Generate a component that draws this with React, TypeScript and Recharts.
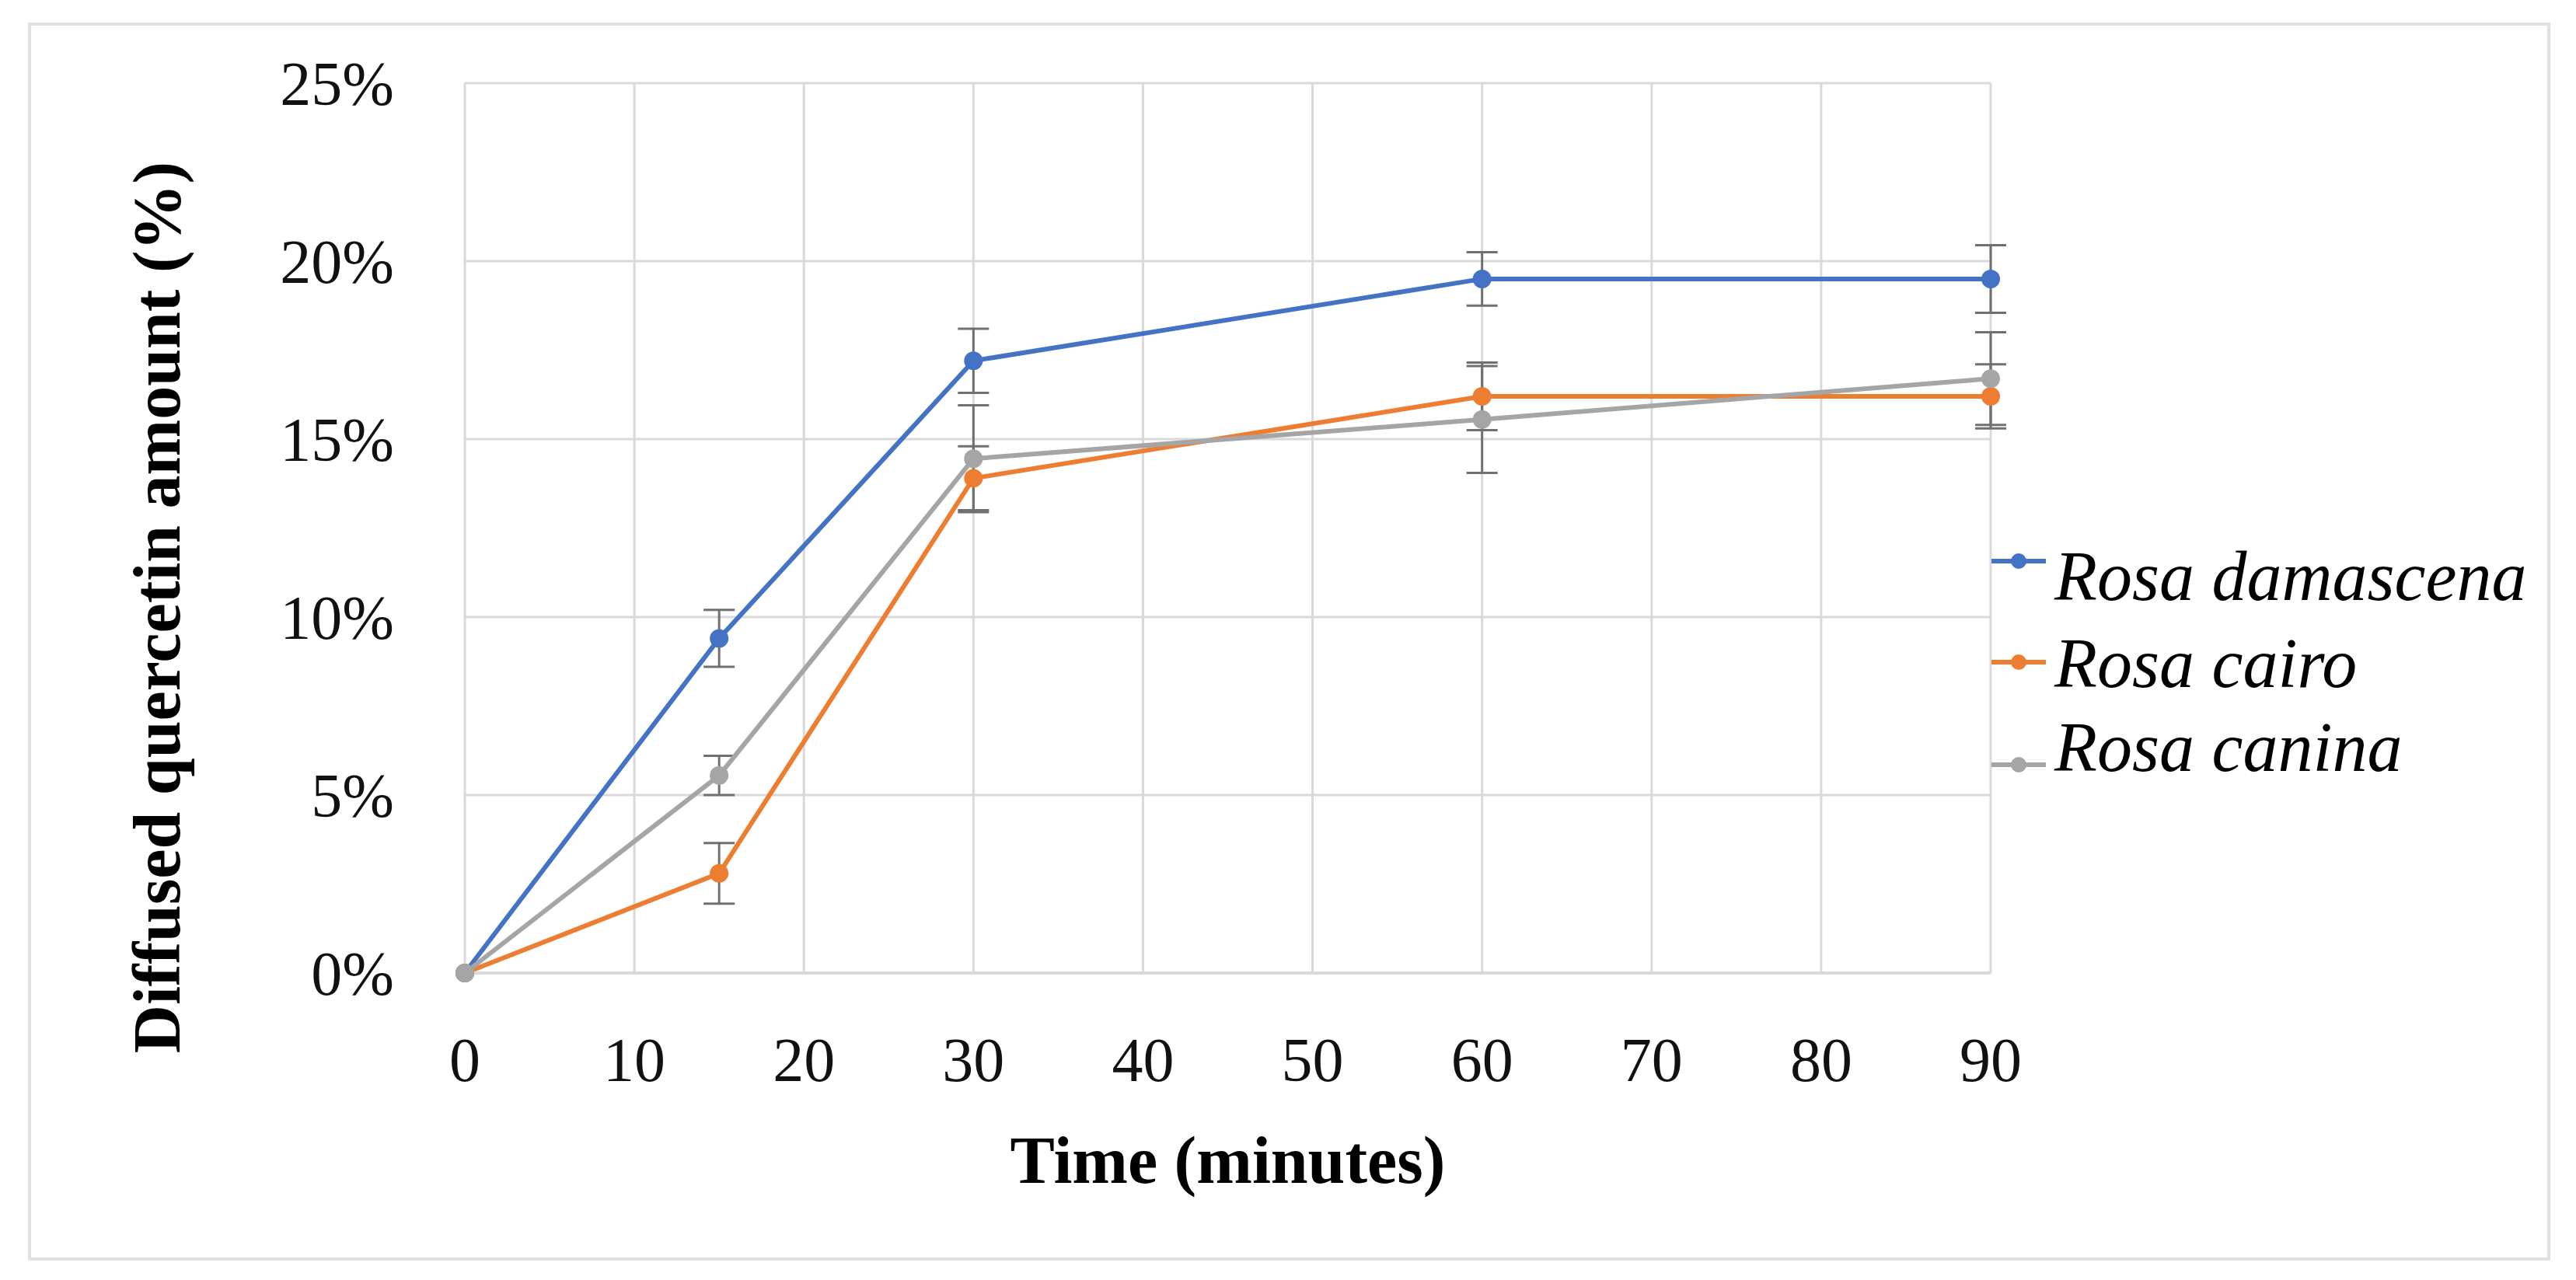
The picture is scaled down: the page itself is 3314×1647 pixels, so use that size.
import React from 'react';
import { LineChart, Line, XAxis, YAxis, CartesianGrid, ErrorBar, Label } from 'recharts';

const times = [0, 15, 30, 60, 90];
const damascena = [0, 9.4, 17.2, 19.5, 19.5];
const damascenaErr = [0, 0.8, 0.9, 0.75, 0.95];
const cairo = [0, 2.8, 13.9, 16.2, 16.2];
const cairoErr = [0, 0.85, 0.9, 0.95, 0.9];
const canina = [0, 5.55, 14.45, 15.55, 16.7];
const caninaErr = [0, 0.55, 1.5, 1.5, 1.3];

const xTicks = [0, 10, 20, 30, 40, 50, 60, 70, 80, 90];
const yTicks = [0, 5, 10, 15, 20, 25];

const seriesKeys = ['damascena', 'cairo', 'canina'];
const seriesNames = ['Rosa damascena', 'Rosa cairo', 'Rosa canina'];
const colors = ['#4472C4', '#ED7D31', '#A5A5A5'];

const xTitle = 'Time (minutes)';
const yTitle = 'Diffused quercetin amount (%)';

const data = times.map((t, i) => ({
  t,
  damascena: damascena[i],
  damascenaErr: damascenaErr[i],
  cairo: cairo[i],
  cairoErr: cairoErr[i],
  canina: canina[i],
  caninaErr: caninaErr[i],
}));

const FONT = '"Liberation Serif", "Times New Roman", serif';

const XTitle = (props: any) => {
  const vb = props.viewBox || {};
  return (
    <text
      x={vb.x + vb.width / 2}
      y={vb.y + 240}
      dy="0.35em"
      textAnchor="middle"
      fontFamily={FONT}
      fontWeight="bold"
      fontSize={86}
      fill="#000"
    >
      {xTitle}
    </text>
  );
};

const YTitle = (props: any) => {
  const vb = props.viewBox || {};
  const cx = vb.x + 201;
  const cy = vb.y + vb.height / 2 + 102;
  return (
    <text
      x={cx}
      y={cy}
      dy="0.35em"
      textAnchor="middle"
      transform={`rotate(-90 ${cx} ${cy})`}
      fontFamily={FONT}
      fontWeight="bold"
      fontSize={86}
      fill="#000"
    >
      {yTitle}
    </text>
  );
};

const markerOffsets = [-18, 0, 24];
const textCenters = [50, 162, 270];

const LegendBox = () => (
  <svg width={760} height={340} style={{ overflow: 'visible', display: 'block' }}>
    {seriesNames.map((name, i) => {
      const ty = textCenters[i];
      const my = ty + markerOffsets[i];
      return (
        <g key={name}>
          <line x1={12} x2={82} y1={my} y2={my} stroke={colors[i]} strokeWidth={6} />
          <circle cx={47} cy={my} r={10} fill={colors[i]} />
          <text
            x={93}
            y={ty}
            dy="0.35em"
            fontFamily={FONT}
            fontStyle="italic"
            fontSize={90}
            fill="#000"
          >
            {name}
          </text>
        </g>
      );
    })}
  </svg>
);

export default function App() {
  return (
    <div style={{ position: 'absolute', left: 0, top: 0, width: 3314, height: 1647, background: '#fff' }}>
      <div
        style={{
          position: 'absolute',
          left: 36,
          top: 29,
          width: 3237,
          height: 1585,
          border: '4px solid #e0e0e0',
        }}
      />
      <div style={{ position: 'absolute', left: 0, top: 0 }}>
        <LineChart
          width={3314}
          height={1647}
          data={data}
          margin={{ top: 107, right: 753, left: 0, bottom: 0 }}
        >
          <CartesianGrid stroke="#d9d9d9" strokeWidth={3} vertical={true} horizontal={true} />
          <XAxis
            dataKey="t"
            type="number"
            domain={[0, 90]}
            ticks={xTicks}
            height={395}
            tickSize={0}
            tickMargin={82}
            axisLine={{ stroke: '#d9d9d9', strokeWidth: 4 }}
            tickLine={false}
            tick={{ fontFamily: FONT, fontSize: 80, fill: '#111' }}
            interval={0}
          >
            <Label content={XTitle} />
          </XAxis>
          <YAxis
            type="number"
            domain={[0, 25]}
            ticks={yTicks}
            width={598}
            tickSize={0}
            tickMargin={91}
            axisLine={false}
            tickLine={false}
            tickFormatter={(v: number) => `${v}%`}
            tick={{ fontFamily: FONT, fontSize: 80, fill: '#111' }}
            interval={0}
          >
            <Label content={YTitle} />
          </YAxis>
          {seriesKeys.map((k, i) => (
            <Line
              key={k}
              type="linear"
              dataKey={k}
              name={seriesNames[i]}
              stroke={colors[i]}
              strokeWidth={6}
              dot={{ r: 12, fill: colors[i], stroke: colors[i], strokeWidth: 0 }}
              activeDot={false}
              isAnimationActive={false}
            >
              <ErrorBar
                dataKey={`${k}Err`}
                width={20}
                stroke="#707070"
                strokeWidth={3}
                direction="y"
              />
            </Line>
          ))}
        </LineChart>
      </div>
      <div style={{ position: 'absolute', left: 2550, top: 690 }}>
        <LegendBox />
      </div>
    </div>
  );
}
